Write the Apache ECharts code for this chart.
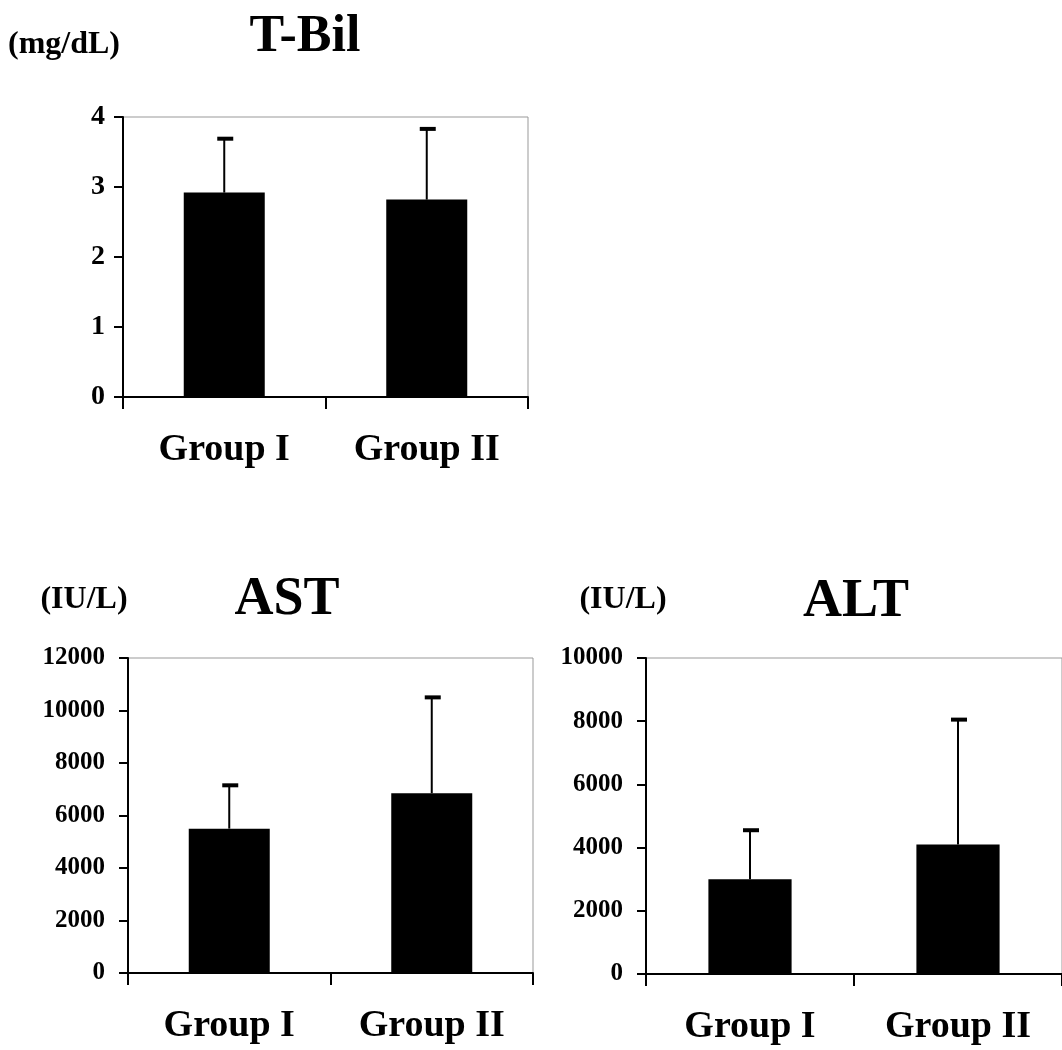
<!DOCTYPE html>
<html>
<head>
<meta charset="utf-8">
<script src="https://cdn.jsdelivr.net/npm/echarts@6/dist/echarts.min.js"></script>
<style>
html,body{margin:0;padding:0;background:#fff;}
#chart{width:1062px;height:1050px;}
</style>
</head>
<body>
<div id="chart"></div>
<script>
// ---- data ----
const categories = ['Group I', 'Group II'];
const tbilMean = [2.92, 2.82];
const tbilSD   = [0.77, 1.01];
const astMean  = [5500, 6850];
const astSD    = [1650, 3650];
const altMean  = [3000, 4100];
const altSD    = [1550, 3950];
const tbilTicks = { min: 0, max: 4, interval: 1 };
const astTicks  = { min: 0, max: 12000, interval: 2000 };
const altTicks  = { min: 0, max: 10000, interval: 2000 };

const FONT = '"Liberation Serif", "Times New Roman", serif';

const chart = echarts.init(document.getElementById('chart'));

const grids = [
  { left: 123, top: 117, width: 405, height: 280 },
  { left: 128, top: 658, width: 405, height: 315 },
  { left: 646, top: 658, width: 420, height: 316 }
];

function xAxisFor(i) {
  return {
    type: 'category', gridIndex: i, data: categories,
    axisLine: { lineStyle: { color: '#000', width: 2 } },
    axisTick: { show: true, length: 12, lineStyle: { color: '#000', width: 2 } },
    axisLabel: { color: '#000', fontFamily: FONT, fontWeight: 'bold', fontSize: 38, margin: 34 }
  };
}
function yAxisFor(i, t, fs, margin) {
  return {
    type: 'value', gridIndex: i, min: t.min, max: t.max, interval: t.interval,
    splitLine: { show: false },
    axisLine: { show: true, lineStyle: { color: '#000', width: 2 } },
    axisTick: { show: true, length: 9, lineStyle: { color: '#000', width: 2 } },
    axisLabel: { color: '#000', fontFamily: FONT, fontWeight: 'bold', fontSize: fs, margin: margin,
                 formatter: v => String(v) }
  };
}

function errData(mean, sd) {
  return mean.map((m, i) => [i, m, m + sd[i]]);
}

function errRender(params, api) {
  const idx = api.value(0);
  const base = api.coord([idx, api.value(1)]);
  const top = api.coord([idx, api.value(2)]);
  return {
    type: 'group',
    children: [
      { type: 'line', shape: { x1: base[0], y1: base[1], x2: top[0], y2: top[1] },
        style: { stroke: '#000', lineWidth: 2 } },
      { type: 'line', shape: { x1: top[0] - 7, y1: top[1], x2: top[0] + 9, y2: top[1] },
        style: { stroke: '#000', lineWidth: 4 } }
    ]
  };
}

function barSeries(i, data) {
  return {
    type: 'bar', xAxisIndex: i, yAxisIndex: i, data: data,
    barWidth: '40%', itemStyle: { color: '#000' }, silent: true
  };
}
function errSeries(i, mean, sd) {
  return {
    type: 'custom', xAxisIndex: i, yAxisIndex: i, data: errData(mean, sd),
    encode: { x: 0, y: [1, 2] }, renderItem: errRender, z: 5, silent: true
  };
}

function txt(x, y, text, size) {
  return {
    type: 'text', x: x, y: y,
    style: { text: text, fill: '#000', font: 'bold ' + size + 'px ' + FONT,
             textAlign: 'center', textVerticalAlign: 'middle' }
  };
}

chart.setOption({
  animation: false,
  backgroundColor: '#fff',
  grid: grids.map(g => Object.assign({ show: true, borderColor: '#999', borderWidth: 1, backgroundColor: 'transparent' }, g)),
  xAxis: [xAxisFor(0), xAxisFor(1), xAxisFor(2)],
  yAxis: [yAxisFor(0, tbilTicks, 28, 18), yAxisFor(1, astTicks, 25, 23), yAxisFor(2, altTicks, 25, 23)],
  series: [
    barSeries(0, tbilMean), errSeries(0, tbilMean, tbilSD),
    barSeries(1, astMean), errSeries(1, astMean, astSD),
    barSeries(2, altMean), errSeries(2, altMean, altSD)
  ],
  graphic: [
    txt(305, 38, 'T-Bil', 52),
    txt(64, 45, '(mg/dL)', 32),
    txt(287, 600, 'AST', 54),
    txt(84, 600, '(IU/L)', 32),
    txt(856, 602, 'ALT', 54),
    txt(623, 600, '(IU/L)', 32)
  ]
});
</script>
</body>
</html>
